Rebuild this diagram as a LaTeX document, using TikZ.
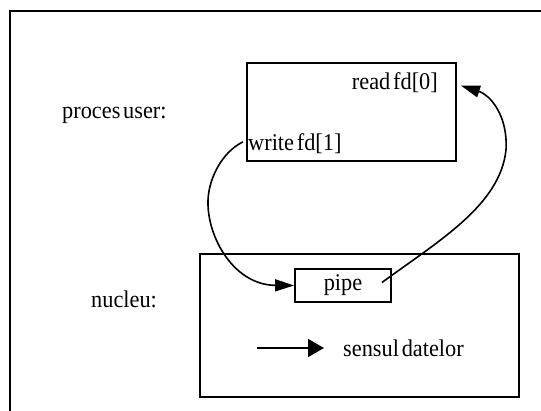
\documentclass[tikz,border=0pt]{standalone}
\usepackage{fontspec}
\setmainfont[FakeStretch=0.93,WordSpace=0.5]{Liberation Serif}
\usetikzlibrary{arrows.meta,positioning}
\tikzset{
    x=1pt,y=-1pt,
    box/.style ={draw, line width=1.9pt, inner sep=0pt},
    lbl/.style ={inner sep=0pt, font=\fontsize{24}{27}\selectfont},
    flow/.style={line width=1.6pt, -{Triangle[length=19pt,width=12pt]}},
    legarrow/.style={line width=1.6pt, -{Triangle[length=16pt,width=18pt]}}
}

\begin{document}
\begin{tikzpicture}
    \clip (0,0) rectangle (541,410);
    \draw[line width=1.9pt] (10,11) rectangle (560,430);

    \node[lbl,anchor=base west] (1) at (62,118) {proces user:};
    \node[box,minimum width=209pt,minimum height=98pt] (2) at (351.5,112) {};
    \node[lbl,anchor=base east] (3) at (438,89) {read fd[0]};
    \node[lbl,anchor=base west] (4) at (248,150.7) {write fd[1]};

    \node[lbl,anchor=base west] (5) at (91,307) {nucleu:};
    \node[box,minimum width=319pt,minimum height=143pt] (6) at (359.5,325.5) {};
    \node[box,lbl,minimum width=96pt,minimum height=33pt] (7) at (343,285.5) {pipe};

    % legend
    \coordinate (8) at (257,348);
    \coordinate[right=67pt of 8] (9);
    \node[lbl,right=19pt of 9] (10) {sensul datelor};
    \draw[legarrow] (8) -- (9);

    % data flow
    \draw[flow] ([xshift=-5pt,yshift=2pt]4.west) .. controls (222,152) and (207,180) .. (208,205)
        .. controls (209,240) and (235,285) .. (7.west);
    \draw[flow] ([xshift=-10pt,yshift=3pt]7.east) .. controls (440,240) and (500,205) .. (506,150)
        .. controls (508,115) and (490,95) .. ([xshift=23pt,yshift=-3.5pt]3.east);
\end{tikzpicture}
\end{document}
